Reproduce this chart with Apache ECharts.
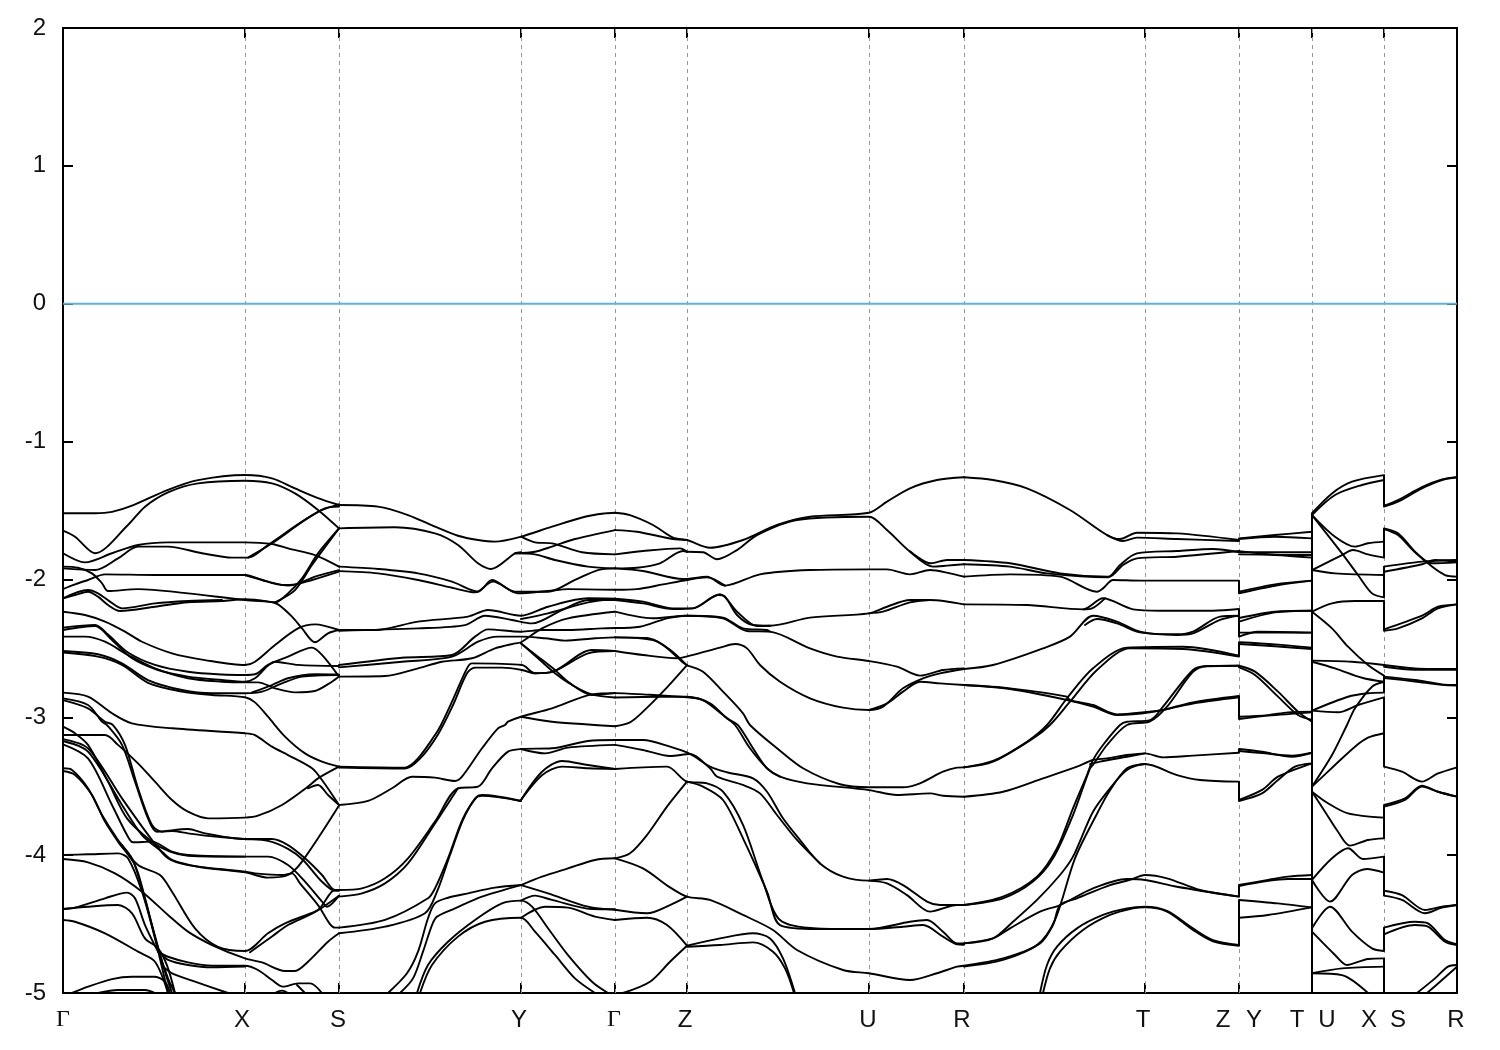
<!DOCTYPE html>
<html><head><meta charset="utf-8">
<style>html,body{margin:0;padding:0;background:#fff}#c{width:1500px;height:1050px}</style>
<script src="https://cdn.jsdelivr.net/npm/echarts@6/dist/echarts.min.js"></script>
</head><body><div id="c"></div>
<script>
// k-path distance of the symmetry points, and the label texts
const symmetryPoints=[0,182,276,458,552,624,806,901,1082,1176,1249,1321,1394];
const kLabelNames=['Γ','X','S','Y','Γ','Z','U','R','T','Z','Y','T','U','X','S','R'];
const kLabelPositions=[0,179,275,456,551,622,805,899,1080,1160,1191,1234,1264,1306,1335,1393];
const energyTicks=[-5,-4,-3,-2,-1,0,1,2];
const fermiLevel=[0,0,1394,0];

// bands: alternating k, energy (eV)
const A=[0,-1.52,32,-1.52,49,-1.51,69,-1.465,105,-1.35,135,-1.28,182,-1.243,209,-1.267,232,-1.34,255,-1.41,276,-1.46];
const B=[0,-1.646,12,-1.69,32,-1.81,65,-1.605,82,-1.472,105,-1.368,135,-1.303,182,-1.284,209,-1.303,232,-1.376,255,-1.496,276,-1.63];
const C=[0,-1.81,22,-1.876,49,-1.81,75,-1.75,105,-1.731,182,-1.731,209,-1.743,225,-1.775,252,-1.823,276,-1.907];
const D=[0,-1.92,32,-1.932,55,-1.847,75,-1.762,105,-1.762,139,-1.81,169,-1.842,185,-1.842,205,-1.75,239,-1.581,259,-1.496,276,-1.455];
const D2=[185,-1.842,209,-1.738,242,-1.569,262,-1.484,276,-1.472];
const F=[0,-2.07,12,-2.036,25,-2.004,42,-1.963,92,-1.968,182,-1.968,199,-2.004,219,-2.04,232,-2.036,252,-1.98,276,-1.932];
const F2=[182,-1.968,205,-2.016,225,-2.045,249,-2.004,276,-1.944];
const G=[0,-1.907,15,-1.915,29,-1.956,39,-2.028,45,-2.084,75,-2.07,125,-2.101,182,-2.149,205,-2.161,212,-2.166,225,-2.101,239,-1.992,255,-1.811,276,-1.63];
const G2=[212,-2.166,232,-2.077,249,-1.895,276,-1.63];
const H=[0,-2.137,12,-2.113,25,-2.089,35,-2.125,45,-2.186,57,-2.229,92,-2.198,125,-2.166,159,-2.157,182,-2.144,205,-2.161,215,-2.181,229,-2.27,239,-2.355,252,-2.456,265,-2.391,276,-2.367];
const H2=[0,-2.137,25,-2.077,35,-2.101,47,-2.161,59,-2.21,92,-2.174,125,-2.157,159,-2.149];
const I=[0,-2.234,22,-2.258,42,-2.306,62,-2.379,79,-2.452,109,-2.536,142,-2.585,182,-2.621,192,-2.597,212,-2.476,235,-2.355,252,-2.326,276,-2.367];
const J1=[0,-2.35,32,-2.33,45,-2.4,65,-2.53,92,-2.62,125,-2.67,159,-2.69,182,-2.693,192,-2.688,205,-2.62,225,-2.56,249,-2.495,259,-2.548,276,-2.705];
const J2=[0,-2.367,32,-2.338,49,-2.44,69,-2.572,95,-2.657,125,-2.705,159,-2.73,182,-2.742,192,-2.717,212,-2.597,235,-2.62,276,-2.628];
const J3=[0,-2.415,22,-2.415,42,-2.452,65,-2.548,92,-2.645,125,-2.717,159,-2.742,182,-2.747,195,-2.747,212,-2.79,232,-2.819,252,-2.809,269,-2.742,276,-2.705];
const L1=[0,-2.519,35,-2.543,59,-2.609,85,-2.73,119,-2.802,149,-2.826,182,-2.826,199,-2.814,219,-2.754,239,-2.705,276,-2.693];
const L2=[0,-2.53,35,-2.56,59,-2.62,85,-2.75,119,-2.814,149,-2.838,182,-2.855,192,-2.892,205,-2.996,222,-3.14,242,-3.262,259,-3.322,276,-3.358];
const L3=[189,-2.82,209,-2.766,225,-2.717,252,-2.688,276,-2.69];
const N=[0,-2.821,25,-2.85,49,-2.971,69,-3.044,109,-3.08,182,-3.116,192,-3.129,209,-3.213,225,-3.274,249,-3.37,259,-3.455,276,-3.636];
const P1=[0,-3.129,42,-3.129,55,-3.2,75,-3.334,92,-3.467,109,-3.6,125,-3.685,145,-3.733,182,-3.728,195,-3.714,219,-3.636,245,-3.503,255,-3.443,276,-3.358];
const P1b=[245,-3.515,255,-3.491,265,-3.564,276,-3.636];
const Q=[0,-2.863,25,-2.911,39,-3.032,44,-3.056,59,-3.2,72,-3.467,85,-3.733,94,-3.83,125,-3.81,142,-3.842,182,-3.883,209,-3.883,225,-3.927,242,-4.023,259,-4.144,272,-4.253,276,-4.253];
const Q2=[0,-2.875,25,-2.935,42,-3.032,50,-3.056,62,-3.2,75,-3.515,89,-3.781,99,-3.83,109,-3.825,125,-3.842,152,-3.866,182,-3.883,205,-3.897,225,-3.955,240,-4.035,259,-4.193,272,-4.258,276,-4.258];
const Q3=[0,-3.068,12,-3.116,25,-3.2,45,-3.467,64,-3.733,89,-3.902,107,-3.975,125,-4.004,182,-4.011];
const S1=[0,-3.196,25,-3.298,49,-3.636,64,-3.854,70,-3.907,89,-3.902,109,-3.975,125,-3.999,182,-4.011,205,-4.011,225,-4.072,242,-4.192,259,-4.337,264,-4.374,276,-4.294];
const S2=[0,-3.172,25,-3.249,59,-3.636,79,-3.854,99,-3.975,109,-4.035,135,-4.084,182,-4.125,205,-4.163,225,-4.144,239,-4.047,276,-3.64];
const S3=[0,-3.158,25,-3.225,59,-3.588,89,-3.89,105,-4.023,125,-4.072,182,-4.12,192,-4.132,219,-4.144,229,-4.132,237,-4.205,255,-4.362,272,-4.526,276,-4.526];
const T1=[0,-3.37,9,-3.382,25,-3.515,39,-3.709,55,-3.89,69,-4.023,79,-4.241,89,-4.507,102,-4.845,109,-5];
const T2=[0,-3.39,12,-3.418,29,-3.564,42,-3.757,55,-3.902,72,-4.072,82,-4.313,95,-4.676,105,-4.894,112,-5];
const U1=[0,-3.999,25,-3.994,55,-3.987,65,-4.023,79,-4.265,92,-4.604,105,-5];
const U2=[0,-4.028,25,-4.052,52,-4.132,79,-4.265,105,-4.434,125,-4.555,149,-4.652,182,-4.749,199,-4.778,222,-4.84,232,-4.84,245,-4.773,265,-4.628,276,-4.567];
const V=[59,-3.926,75,-4.072,97,-4.144,109,-4.265,132,-4.531,155,-4.665,182,-4.695,205,-4.567,222,-4.495,252,-4.41,259,-4.381,276,-4.294];
const V2=[187,-4.705,209,-4.59,225,-4.507,255,-4.398,272,-4.253,276,-4.253];
const W1=[95,-4.7,105,-4.737,125,-4.778,149,-4.802,182,-4.802,195,-4.833,209,-4.906,220,-4.954,235,-4.93,247,-4.93,259,-5];
const W1b=[97,-4.7,105,-4.76,125,-4.797,149,-4.814,182,-4.808];
const W2=[102,-4.821,109,-4.857,132,-4.918,165,-5];
const Y1=[9,-5,25,-4.954,49,-4.899,69,-4.882,92,-4.882,102,-4.918,107,-5];
const Z1=[35,-5,55,-4.978,82,-4.978,92,-5];
const Z2=[212,-5,219,-4.983,225,-5];
const Z3=[234,-4.942,242,-5];
const AA1=[0,-4.391,12,-4.381,42,-4.313,64,-4.272,72,-4.313,82,-4.507,95,-4.7];
const AA2=[0,-4.391,25,-4.374,55,-4.362,69,-4.422,82,-4.604,95,-4.676,104,-4.8,112,-5];
const AA3=[0,-4.47,12,-4.483,42,-4.567,75,-4.7,92,-4.773,105,-5];

const a1=[276,-1.46,315,-1.472,345,-1.533,372,-1.617,395,-1.683,415,-1.714,432,-1.726,458,-1.69,489,-1.617,522,-1.545,542,-1.521,552,-1.516];
const a2=[276,-1.63,332,-1.622,372,-1.666,395,-1.75,415,-1.883,428,-1.924,452,-1.811,458,-1.803];
const b1=[458,-1.69,472,-1.731,489,-1.738,519,-1.803,552,-1.818];
const b2=[452,-1.811,472,-1.799,489,-1.762,512,-1.707,552,-1.642];
const b3=[452,-1.811,472,-1.818,492,-1.859,525,-1.907,552,-1.92];
const c1=[276,-1.907,315,-1.924,355,-1.956,389,-2.016,415,-2.089,429,-2.004,452,-2.089,485,-2.089,512,-2.004,535,-1.932,552,-1.92];
const c2=[276,-1.94,315,-1.956,355,-2.004,389,-2.06,412,-2.094,430,-2.016,455,-2.101,485,-2.084,505,-2.07,552,-2.075];
const d1=[276,-2.367,312,-2.367,355,-2.306,405,-2.27,425,-2.222,458,-2.263,485,-2.198,525,-2.137,552,-2.14];
const d2=[276,-2.372,355,-2.355,402,-2.331,422,-2.263,449,-2.294,469,-2.319,499,-2.222,525,-2.149,552,-2.149];
const d3=[458,-2.287,485,-2.246,525,-2.166,552,-2.14];
const e1=[276,-2.621,339,-2.568,389,-2.548,412,-2.415,425,-2.362,458,-2.379,479,-2.367,505,-2.367,539,-2.355,552,-2.352];
const e2=[276,-2.638,339,-2.597,389,-2.56,415,-2.452,435,-2.415,459,-2.415,482,-2.427,502,-2.444,532,-2.427,552,-2.42];
const f=[276,-2.705,322,-2.701,355,-2.645,379,-2.597,409,-2.572,432,-2.5,452,-2.464,458,-2.456,479,-2.355,505,-2.282,552,-2.234];
const g=[276,-3.358,342,-3.365,355,-3.298,372,-3.129,378,-3.056,389,-2.887,404,-2.645,409,-2.609,459,-2.621,472,-2.681,490,-2.669,525,-2.536,552,-2.519];
const g2=[276,-3.365,342,-3.372,357,-3.3,375,-3.124,390,-2.911,404,-2.681,412,-2.64,439,-2.64,459,-2.657,472,-2.681,490,-2.669,529,-2.512,552,-2.519];
const h=[458,-2.464,475,-2.572,492,-2.681,509,-2.766,529,-2.834,552,-2.856];
const h2=[458,-2.464,475,-2.56,492,-2.657,505,-2.742,529,-2.838,552,-2.825];
const k=[276,-3.636,305,-3.607,329,-3.515,349,-3.431,372,-3.438,392,-3.462,399,-3.431,419,-3.225,435,-3.08,442,-3.056,445,-3.032,458,-2.996,489,-2.935,529,-2.834,552,-2.825];
const i2=[458,-2.996,489,-3.032,522,-3.051,552,-3.065];
const l=[276,-4.253,299,-4.241,322,-4.168,345,-4.023,372,-3.757,395,-3.515,415,-3.503,429,-3.37,445,-3.249,458,-3.23,489,-3.225,525,-3.172,552,-3.165];
const l2=[276,-4.301,299,-4.277,322,-4.205,345,-4.06,372,-3.77,395,-3.515];
const l3=[458,-3.23,482,-3.262,505,-3.22,552,-3.2];
const m=[458,-3.6,479,-3.395,499,-3.317,525,-3.346,552,-3.375];
const m2=[458,-3.6,479,-3.42,499,-3.358,525,-3.37,552,-3.375];
const n1=[276,-4.526,322,-4.47,365,-4.313,372,-4.241,385,-4.023,400,-3.733,414,-3.576,419,-3.564,458,-3.607];
const n2=[276,-4.567,322,-4.519,362,-4.422,374,-4.265,387,-3.999,400,-3.745,412,-3.59,419,-3.57,458,-3.607];
const o1=[325,-5,344,-4.857,355,-4.7,365,-4.458,372,-4.35,385,-4.309,405,-4.277,432,-4.236,458,-4.217];
const o2=[337,-5,350,-4.894,360,-4.7,369,-4.507,374,-4.446,392,-4.386,419,-4.301,458,-4.217];
const p=[354,-5,365,-4.797,385,-4.628,412,-4.47,439,-4.35,458,-4.33,469,-4.374,485,-4.53,505,-4.725,529,-4.918,545,-5];
const p2b=[357,-5,369,-4.797,395,-4.591,422,-4.483,458,-4.454,472,-4.555,492,-4.724,512,-4.894,532,-5];
const q1=[458,-4.217,479,-4.156,505,-4.096,532,-4.035,552,-4.023];
const q2=[458,-4.217,485,-4.277,525,-4.374,552,-4.396];
const q3=[458,-4.33,472,-4.294,489,-4.325,529,-4.391,552,-4.393];
const q4=[458,-4.454,482,-4.374,505,-4.381,532,-4.446,552,-4.47];

const t1=[552,-1.516,567,-1.533,590,-1.605,610,-1.697,624,-1.714,647,-1.77,680,-1.714,714,-1.605,747,-1.545,806,-1.516,824,-1.436,847,-1.339,874,-1.279,901,-1.259];
const t2=[552,-1.642,574,-1.654,610,-1.707,624,-1.714];
const t3=[624,-1.799,640,-1.803,654,-1.854,674,-1.787,694,-1.678,734,-1.569,806,-1.545,824,-1.642,847,-1.799,870,-1.907,884,-1.9,901,-1.89];
const t3b=[847,-1.795,868,-1.883,884,-1.859,901,-1.859];
const t4=[552,-1.818,580,-1.794,617,-1.775,624,-1.799];
const t5=[552,-1.92,574,-1.915,597,-1.883,620,-1.794,624,-1.799];
const u1=[552,-1.92,580,-1.939,620,-1.997,644,-1.98,662,-2.045,697,-1.963,747,-1.932,806,-1.927,824,-1.927,847,-1.963,867,-1.932,887,-1.956,901,-1.98];
const u2=[552,-2.075,574,-2.07,600,-2.036,624,-2.004,644,-1.985,662,-2.045];
const v=[552,-2.14,580,-2.161,610,-2.21,630,-2.21,655,-2.113,662,-2.125,674,-2.258,690,-2.331,707,-2.336,747,-2.277,806,-2.246,824,-2.198,847,-2.149,867,-2.149,901,-2.181];
const v2=[552,-2.149,580,-2.174,610,-2.215,630,-2.21,657,-2.108,674,-2.234,694,-2.338,707,-2.336];
const v3=[806,-2.246,820,-2.234,847,-2.166,867,-2.149];
const w=[552,-2.234,590,-2.282,624,-2.263,660,-2.282,684,-2.374,707,-2.379,747,-2.5,774,-2.56,806,-2.592,834,-2.633,857,-2.698,880,-2.657,901,-2.645];
const w2=[552,-2.352,577,-2.343,604,-2.282,624,-2.263,660,-2.277,680,-2.355,704,-2.367,707,-2.379];
const x1=[552,-2.42,584,-2.425,600,-2.475,619,-2.597,624,-2.623];
const x2=[552,-2.42,590,-2.44,607,-2.51,624,-2.623];
const x3=[624,-2.623,640,-2.669,660,-2.814,680,-2.971,687,-3.056,714,-3.225,740,-3.37,777,-3.486,806,-3.508,840,-3.508,857,-3.479,880,-3.395,894,-3.365,901,-3.363];
const y1=[552,-2.519,580,-2.548,614,-2.572,627,-2.553,657,-2.495,672,-2.468,684,-2.5,697,-2.621,717,-2.742,747,-2.862,780,-2.93,806,-2.947,820,-2.923,840,-2.79,860,-2.717,877,-2.681,901,-2.65];
const y2=[806,-2.947,824,-2.899,840,-2.814,857,-2.742,877,-2.754,901,-2.766];
const z1=[552,-2.825,580,-2.834,624,-2.855,640,-2.875,660,-2.984,672,-3.056,687,-3.225,704,-3.37,717,-3.431,744,-3.479,806,-3.528,834,-3.564,867,-3.552,880,-3.569,901,-3.576];
const z2=[552,-2.856,597,-2.851,624,-2.851,647,-2.899,664,-3.008,675,-3.056,690,-3.225,704,-3.37,717,-3.431];
const z3=[552,-3.065,567,-3.037,580,-2.959,600,-2.814,624,-2.621];
const aa=[552,-3.165,580,-3.165,607,-3.213,627,-3.266,647,-3.358,664,-3.399,690,-3.443,704,-3.54,720,-3.733,737,-3.89,757,-4.06,780,-4.156,806,-4.185,824,-4.173,840,-4.217,864,-4.337,877,-4.362,901,-4.362];
const ab=[552,-3.2,580,-3.237,607,-3.281,627,-3.266,647,-3.37,654,-3.431,680,-3.491,697,-3.552,714,-3.709,734,-3.89,757,-4.06];
const ac=[806,-4.185,824,-4.205,844,-4.29,867,-4.41,894,-4.362,901,-4.362];
const ad=[552,-3.375,580,-3.363,604,-3.358,624,-3.467,644,-3.479,660,-3.54,680,-3.781,700,-4.192,717,-4.47,754,-4.531,806,-4.536,847,-4.483,864,-4.47,880,-4.555,894,-4.64,901,-4.64];
const ae=[624,-3.467,640,-3.503,660,-3.6,680,-3.878,704,-4.265,717,-4.507,754,-4.536,806,-4.536,840,-4.519,860,-4.507,880,-4.591,894,-4.647,901,-4.65];
const af=[552,-4.023,567,-3.987,584,-3.854,604,-3.648,624,-3.467];
const ag=[552,-4.023,580,-4.096,607,-4.234,624,-4.301,647,-4.325,680,-4.434,710,-4.543,734,-4.688,780,-4.833,806,-4.857,847,-4.906,874,-4.857,894,-4.809,901,-4.802];
const ah=[552,-4.396,584,-4.422,607,-4.362,624,-4.301];
const ai=[552,-4.47,584,-4.454,604,-4.507,624,-4.657];
const aj=[560,-5,587,-4.918,607,-4.773,624,-4.657];
const ak=[624,-4.657,657,-4.604,690,-4.567,707,-4.604,720,-4.749,732,-5];
const al=[624,-4.665,657,-4.652,690,-4.633,710,-4.7,722,-4.821,731,-5];

const bb1=[901,-1.259,930,-1.279,964,-1.339,1007,-1.496,1044,-1.678,1057,-1.707,1074,-1.661,1114,-1.666,1176,-1.714];
const bb2=[1044,-1.678,1060,-1.721,1074,-1.697,1114,-1.707,1176,-1.721];
const cc1=[901,-1.859,947,-1.883,997,-1.956,1045,-1.98,1057,-1.895,1074,-1.811,1114,-1.794,1150,-1.779,1176,-1.803];
const cc2=[901,-1.89,947,-1.907,984,-1.956,1045,-1.985,1060,-1.895,1074,-1.847,1114,-1.835,1176,-1.794];
const cc3=[901,-1.98,947,-1.963,997,-1.98,1034,-2.089,1040,-2.065,1050,-2.004,1077,-2.009,1176,-2.009];
const dd1=[901,-2.181,964,-2.186,1020,-2.217,1040,-2.137,1070,-2.217,1097,-2.227,1150,-2.227,1176,-2.215];
const dd2=[1020,-2.217,1029,-2.21,1042,-2.137];
const ee=[901,-2.65,930,-2.621,980,-2.5,1007,-2.415,1030,-2.263,1054,-2.306,1077,-2.379,1114,-2.403,1130,-2.391,1157,-2.294,1176,-2.263];
const ee2=[1022,-2.331,1034,-2.287,1054,-2.319,1077,-2.384,1114,-2.398,1130,-2.379,1157,-2.27,1176,-2.263];
const ff=[901,-2.766,947,-2.79,1004,-2.85,1007,-2.875,1030,-2.911,1054,-2.979,1087,-2.959,1100,-2.947,1130,-2.892,1176,-2.846];
const ff2=[901,-2.766,947,-2.795,1004,-2.875,1030,-2.923,1054,-2.984,1087,-2.964,1130,-2.9,1176,-2.855];
const gg=[901,-3.363,930,-3.317,964,-3.177,984,-3.056,1004,-2.862,1030,-2.645,1064,-2.495,1120,-2.488,1176,-2.553];
const gg2=[901,-3.363,930,-3.322,970,-3.153,987,-3.056,1007,-2.887,1034,-2.657,1067,-2.5,1120,-2.505,1176,-2.56];
const hh=[901,-4.362,940,-4.301,974,-4.156,994,-3.95,1010,-3.66,1024,-3.419,1030,-3.31,1040,-3.201,1057,-3.056,1064,-3.032,1087,-3.02,1100,-2.923,1130,-2.657,1144,-2.628,1176,-2.626];
const hh2=[901,-4.362,940,-4.313,970,-4.192,990,-4.023,1010,-3.709,1027,-3.37,1030,-3.346,1044,-3.201,1064,-3.056,1087,-3.03,1104,-2.923,1130,-2.67,1144,-2.63,1176,-2.626];
const jj=[901,-3.576,940,-3.54,980,-3.443,1014,-3.358,1030,-3.31,1044,-3.298,1064,-3.274,1082,-3.262,1100,-3.291,1130,-3.278,1176,-3.257];
const jj2=[1027,-3.34,1037,-3.322,1064,-3.286,1082,-3.262];
const mm=[901,-4.64,930,-4.604,950,-4.483,974,-4.325,997,-4.144,1010,-4.011,1030,-3.685,1047,-3.515,1064,-3.382,1082,-3.339,1114,-3.419,1137,-3.455,1176,-3.467];
const mm2=[901,-4.802,940,-4.749,974,-4.652,992,-4.47,1012,-4.023,1034,-3.7,1047,-3.53,1064,-3.37,1082,-3.339];
const ll=[901,-4.64,930,-4.604,947,-4.531,977,-4.41,997,-4.362,1030,-4.241,1064,-4.173,1082,-4.18,1114,-4.229,1176,-4.301];
const nn=[901,-4.808,940,-4.76,977,-4.64,990,-4.507,997,-4.362,1014,-4.313,1047,-4.217,1067,-4.18,1082,-4.144,1104,-4.168,1137,-4.253,1176,-4.301];
const oo1=[977,-5,984,-4.797,994,-4.664,1014,-4.531,1040,-4.434,1064,-4.386,1082,-4.374,1104,-4.405,1130,-4.531,1150,-4.616,1176,-4.652];
const oo2=[980,-5,987,-4.821,997,-4.7,1020,-4.543,1047,-4.434,1070,-4.386,1082,-4.379,1104,-4.41,1130,-4.543,1150,-4.625,1176,-4.657];

const p1=[1176,-1.702,1212,-1.678,1249,-1.654];
const p2=[1176,-1.707,1212,-1.69,1249,-1.702];
const p3=[1176,-1.803,1212,-1.803,1249,-1.803];
const p3b=[1176,-1.818,1212,-1.823,1249,-1.842];
const p3c=[1176,-1.795,1212,-1.82,1249,-1.823];
const p4=[1176,-2.089,1212,-2.036,1249,-2.009];
const p4b=[1176,-2.101,1212,-2.046,1249,-2.009];
const p5=[1176,-2.306,1212,-2.239,1249,-2.227];
const p5b=[1176,-2.28,1212,-2.234,1249,-2.227];
const p6=[1176,-2.386,1249,-2.386];
const p6b=[1176,-2.415,1195,-2.38,1249,-2.386];
const p7=[1176,-2.456,1212,-2.471,1249,-2.495];
const p7b=[1176,-2.468,1212,-2.485,1249,-2.505];
const p8=[1176,-2.626,1192,-2.669,1215,-2.814,1235,-2.959,1249,-3.032];
const p8b=[1176,-2.638,1192,-2.693,1215,-2.85,1235,-2.984,1249,-3.02];
const p9=[1176,-2.996,1205,-2.984,1225,-2.964,1249,-2.959];
const p9b=[1176,-3.012,1205,-2.988,1249,-2.964];
const p10=[1176,-3.23,1199,-3.25,1229,-3.286,1249,-3.257];
const p10b=[1176,-3.245,1199,-3.26,1229,-3.278,1249,-3.257];
const p11=[1176,-3.607,1199,-3.552,1215,-3.455,1232,-3.358,1249,-3.334];
const p11b=[1176,-3.6,1199,-3.527,1215,-3.431,1249,-3.334];
const p12=[1176,-4.217,1205,-4.18,1225,-4.156,1249,-4.144];
const p12b=[1176,-4.224,1225,-4.173,1249,-4.173];
const p13=[1176,-4.325,1215,-4.35,1249,-4.379];
const p14=[1176,-4.454,1205,-4.434,1249,-4.379];

const r1=[1249,-1.52,1269,-1.376,1289,-1.291,1321,-1.243];
const r2=[1249,-1.533,1272,-1.388,1299,-1.315,1321,-1.279];
const r3=[1249,-1.533,1272,-1.69,1292,-1.762,1305,-1.738,1321,-1.726];
const r4=[1249,-1.533,1279,-1.811,1295,-1.968,1309,-2.101,1321,-2.13];
const r4b=[1249,-1.932,1279,-1.823,1290,-1.787,1305,-1.818,1321,-1.842];
const r5=[1249,-1.932,1272,-1.956,1321,-1.968];
const r6=[1249,-2.234,1269,-2.174,1292,-2.157,1321,-2.157];
const r7=[1249,-2.234,1269,-2.355,1285,-2.488,1305,-2.621,1321,-2.698];
const r8=[1249,-2.589,1289,-2.597,1321,-2.621];
const r9=[1249,-2.597,1272,-2.645,1299,-2.713,1321,-2.742];
const r10=[1249,-2.952,1285,-2.851,1305,-2.826,1321,-2.821];
const r11=[1249,-2.952,1275,-2.964,1295,-2.911,1321,-2.855];
const r12=[1249,-3.503,1269,-3.274,1284,-3.056,1292,-2.935,1309,-2.778,1321,-2.742];
const r13=[1249,-3.503,1272,-3.346,1292,-3.213,1305,-3.148,1321,-3.116];
const r14=[1249,-3.54,1265,-3.624,1285,-3.697,1321,-3.728];
const r15=[1249,-3.54,1262,-3.685,1275,-3.83,1287,-3.931,1305,-3.89,1321,-3.878];
const r16=[1249,-4.18,1269,-4.023,1285,-3.95,1300,-4.028,1321,-4.011];
const r17=[1249,-4.18,1267,-4.337,1289,-4.144,1304,-4.1,1321,-4.127];
const r18=[1249,-4.531,1267,-4.374,1289,-4.555,1309,-4.676,1321,-4.695];
const r19=[1249,-4.555,1272,-4.724,1284,-4.797,1305,-4.753,1321,-4.749];
const r20=[1249,-4.857,1279,-4.821,1321,-4.809];
const r21=[1249,-4.857,1279,-4.87,1305,-5];

const s1=[1321,-1.472,1335,-1.436,1359,-1.339,1379,-1.279,1394,-1.259];
const s1b=[1321,-1.465,1335,-1.424,1359,-1.33,1379,-1.275,1394,-1.259];
const s2=[1321,-1.63,1335,-1.666,1352,-1.799,1369,-1.907,1382,-1.968,1394,-1.98];
const s2b=[1321,-1.634,1335,-1.678,1352,-1.803,1369,-1.883,1394,-1.876];
const s3=[1321,-1.907,1359,-1.871,1394,-1.859];
const s4=[1321,-1.944,1359,-1.89,1372,-1.859,1394,-1.871];
const s5=[1321,-2.372,1335,-2.355,1359,-2.282,1375,-2.21,1394,-2.181];
const s5b=[1321,-2.362,1359,-2.263,1375,-2.198,1394,-2.181];
const s6=[1321,-2.621,1352,-2.645,1394,-2.65];
const s6b=[1321,-2.633,1352,-2.655,1394,-2.655];
const s7=[1321,-2.705,1352,-2.73,1379,-2.761,1394,-2.766];
const s7b=[1321,-2.715,1352,-2.74,1379,-2.765,1394,-2.77];
const s8=[1321,-3.358,1339,-3.395,1359,-3.467,1375,-3.407,1394,-3.363];
const s9=[1321,-3.648,1342,-3.6,1359,-3.503,1375,-3.54,1394,-3.576];
const s9b=[1321,-3.636,1342,-3.588,1359,-3.496,1375,-3.54,1394,-3.576];
const s10=[1321,-4.258,1339,-4.29,1362,-4.398,1379,-4.374,1394,-4.362];
const s10b=[1321,-4.294,1339,-4.325,1362,-4.422,1379,-4.381,1394,-4.362];
const s11=[1321,-4.526,1352,-4.483,1365,-4.495,1382,-4.616,1394,-4.647];
const s11b=[1321,-4.574,1352,-4.507,1365,-4.519,1382,-4.628,1394,-4.652];
const s12=[1354,-5,1372,-4.894,1385,-4.809,1394,-4.797];
const s12b=[1364,-5,1379,-4.906,1394,-4.809];

// discontinuities of the path: k, energy from, energy to
const jumps=[[1176,-2.009,-2.101],[1176,-2.215,-2.306],[1176,-2.263,-2.415],[1176,-2.456,-2.553],[1176,-2.626,-2.638],[1176,-2.846,-3.012],[1176,-3.23,-3.257],[1176,-3.467,-3.607],[1176,-4.217,-4.301],[1176,-4.325,-4.657],
[1249,-1.52,-5],
[1321,-1.243,-1.472],[1321,-1.63,-1.842],[1321,-1.907,-2.13],[1321,-2.157,-2.372],[1321,-2.698,-2.742],[1321,-2.742,-2.821],[1321,-2.855,-3.358],[1321,-3.64,-3.878],[1321,-4.011,-4.294],[1321,-4.526,-4.695],[1321,-4.749,-5]];

const bands=[A,B,C,D,D2,F,F2,G,G2,H,H2,I,J1,J2,J3,L1,L2,L3,N,P1,P1b,Q,Q2,Q3,S1,S2,S3,T1,T2,U1,U2,V,V2,W1,W1b,W2,Y1,Z1,Z2,Z3,AA1,AA2,AA3,
a1,a2,b1,b2,b3,c1,c2,d1,d2,d3,e1,e2,f,g,g2,h,h2,k,i2,l,l2,l3,m,m2,n1,n2,o1,o2,p,p2b,q1,q2,q3,q4,
t1,t2,t3,t3b,t4,t5,u1,u2,v,v2,v3,w,w2,x1,x2,x3,y1,y2,z1,z2,z3,aa,ab,ac,ad,ae,af,ag,ah,ai,aj,ak,al,
bb1,bb2,cc1,cc2,cc3,dd1,dd2,ee,ee2,ff,ff2,gg,gg2,hh,hh2,jj,jj2,mm,mm2,ll,nn,oo1,oo2,
p1,p2,p3,p3b,p3c,p4,p4b,p5,p5b,p6,p6b,p7,p7b,p8,p8b,p9,p9b,p10,p10b,p11,p11b,p12,p12b,p13,p14,
r1,r2,r3,r4,r4b,r5,r6,r7,r8,r9,r10,r11,r12,r13,r14,r15,r16,r17,r18,r19,r20,r21,
s1,s1b,s2,s2b,s3,s4,s5,s5b,s6,s6b,s7,s7b,s8,s9,s9b,s10,s10b,s11,s11b,s12,s12b];

const pairs=a=>{const o=[];for(let i=0;i<a.length;i+=2)o.push([a[i],a[i+1]]);return o;};
const series=[];
symmetryPoints.slice(1,-1).forEach(x=>series.push({type:'line',data:[[x+0.5,-5],[x+0.5,2]],showSymbol:false,silent:true,z:1,
  lineStyle:{color:'#999',width:1,type:[4,4]}}));
bands.forEach(b=>series.push({type:'line',data:pairs(b),showSymbol:false,smooth:0.3,silent:true,z:3,clip:true,
  lineStyle:{color:'#000',width:1.9,cap:'round',join:'round'}}));
jumps.forEach(j=>series.push({type:'line',data:[[j[0],j[1]],[j[0],j[2]]],showSymbol:false,silent:true,z:3,
  lineStyle:{color:'#000',width:2}}));
series.push({type:'line',data:pairs(fermiLevel),showSymbol:false,silent:true,z:2,lineStyle:{color:'#56b4e9',width:2}});

const chart=echarts.init(document.getElementById('c'),null,{renderer:'canvas'});
const labelOf={};kLabelPositions.forEach((v,i)=>labelOf[v]=kLabelNames[i]);
chart.setOption({
  animation:false,backgroundColor:'#fff',
  grid:{left:63,top:28,width:1394,height:965,show:false,containLabel:false},
  xAxis:[{type:'value',min:0,max:1394,position:'bottom',
    axisLine:{show:true,onZero:false,lineStyle:{color:'#000',width:2}},
    axisTick:{show:true,inside:true,length:10,customValues:symmetryPoints,lineStyle:{color:'#000',width:2}},
    axisLabel:{show:true,customValues:kLabelPositions,margin:15,fontFamily:'Liberation Sans',fontSize:24,color:'#111',
      formatter:v=>labelOf[v]==='Γ'?'{g|Γ}':(labelOf[v]||''),
      rich:{g:{fontFamily:'Liberation Serif',fontSize:24,color:'#111'}}},
    splitLine:{show:false}},
   {type:'value',min:0,max:1394,position:'top',
    axisLine:{show:true,onZero:false,lineStyle:{color:'#000',width:2}},
    axisTick:{show:true,inside:true,length:10,customValues:symmetryPoints,lineStyle:{color:'#000',width:2}},
    axisLabel:{show:false},splitLine:{show:false}}],
  yAxis:[{type:'value',min:-5,max:2,interval:1,position:'left',
    axisLine:{show:true,onZero:false,lineStyle:{color:'#000',width:2}},
    axisTick:{show:true,inside:true,length:10,lineStyle:{color:'#000',width:2}},
    axisLabel:{show:true,margin:17,fontFamily:'Liberation Sans',fontSize:24,color:'#111',
      formatter:v=>energyTicks.includes(v)?String(v):''},
    splitLine:{show:false}},
   {type:'value',min:-5,max:2,interval:1,position:'right',
    axisLine:{show:true,onZero:false,lineStyle:{color:'#000',width:2}},
    axisTick:{show:true,inside:true,length:10,lineStyle:{color:'#000',width:2}},
    axisLabel:{show:false},splitLine:{show:false}}],
  series
});
</script></body></html>
